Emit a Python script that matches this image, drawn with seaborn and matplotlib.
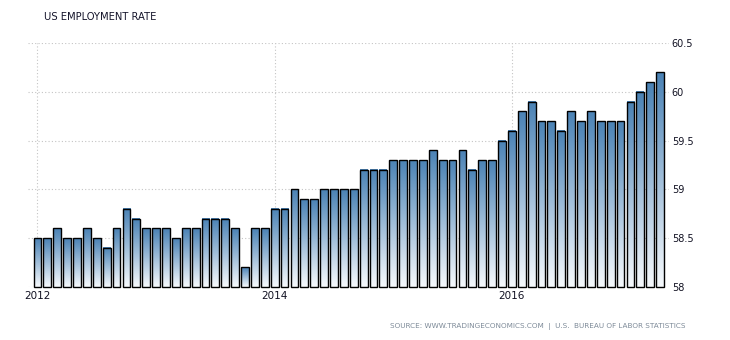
import numpy as np
import pandas as pd
import matplotlib
matplotlib.use("Agg")
import matplotlib.pyplot as plt
from matplotlib.colors import LinearSegmentedColormap
import seaborn as sns

# ---- data ----
rate = [58.5, 58.5, 58.6, 58.5, 58.5, 58.6, 58.5, 58.4, 58.6, 58.8, 58.7, 58.6,
        58.6, 58.6, 58.5, 58.6, 58.6, 58.7, 58.7, 58.7, 58.6, 58.2, 58.6, 58.6,
        58.8, 58.8, 59.0, 58.9, 58.9, 59.0, 59.0, 59.0, 59.0, 59.2, 59.2, 59.2,
        59.3, 59.3, 59.3, 59.3, 59.4, 59.3, 59.3, 59.4, 59.2, 59.3, 59.3, 59.5,
        59.6, 59.8, 59.9, 59.7, 59.7, 59.6, 59.8, 59.7, 59.8, 59.7, 59.7, 59.7,
        59.9, 60.0, 60.1, 60.2]
months = [d.strftime("%Y-%m") for d in pd.date_range("2012-01-01", periods=len(rate), freq="MS")]
year_ticks = ["2012-01", "2014-01", "2016-01"]
year_labels = ["2012", "2014", "2016"]
y_ticks = [58, 58.5, 59, 59.5, 60, 60.5]
y_labels = ["58", "58.5", "59", "59.5", "60", "60.5"]
title = "US EMPLOYMENT RATE"
source = "SOURCE: WWW.TRADINGECONOMICS.COM  |  U.S.  BUREAU OF LABOR STATISTICS"

df = pd.DataFrame({"month": months, "rate": rate})

sns.set_theme(style="white")
plt.rcParams["font.family"] = ["DejaVu Sans"]

fig = plt.figure(figsize=(7.3, 3.4), dpi=100)
ax = fig.add_axes([28 / 730, 1 - 287 / 340, (669 - 28) / 730, (287 - 43) / 340])

sns.barplot(data=df, x="month", y="rate", order=months, ax=ax, width=0.79,
            color="#4a84b6", edgecolor="black", linewidth=1.0, zorder=3)

ymin = 58
cmap = LinearSegmentedColormap.from_list("g", ["#f7fafd", "#4a82b5"])
grad = np.linspace(0, 1, 256).reshape(-1, 1)
for p in ax.patches:
    x0, w, h = p.get_x(), p.get_width(), p.get_height()
    p.set_y(ymin)
    p.set_height(h - ymin)
    ax.imshow(grad, extent=(x0, x0 + w, ymin, h), origin="lower", aspect="auto",
              cmap=cmap, zorder=2, interpolation="bilinear")
    p.set_facecolor("none")
    p.set_zorder(3)
    p.set_clip_on(False)

ax.set_xlim(-0.96, 63.9)
ax.set_ylim(58, 60.5)

ax.set_xticks([months.index(m) for m in year_ticks])
ax.set_xticklabels(year_labels)
ax.set_yticks(y_ticks)
ax.set_yticklabels(y_labels)
ax.yaxis.tick_right()
ax.tick_params(axis="y", length=0, pad=2, labelsize=7, labelcolor="#111122")
ax.tick_params(axis="x", length=0, pad=3, labelsize=7.5, labelcolor="#111122")
ax.set_xlabel("")
ax.set_ylabel("")

ax.grid(True, axis="both", linestyle=(0, (1, 2)), color="#c4c4c4", linewidth=0.8)
ax.set_axisbelow(True)
for s in ax.spines.values():
    s.set_visible(False)

fig.text(44 / 730, 1 - 17 / 340, title, fontsize=7.2, color="#14142a", va="center", ha="left")
fig.text(686 / 730, 1 - 326 / 340, source, fontsize=5.2, color="#7d8a98", va="center", ha="right")

fig.savefig("out.png", dpi=100)
